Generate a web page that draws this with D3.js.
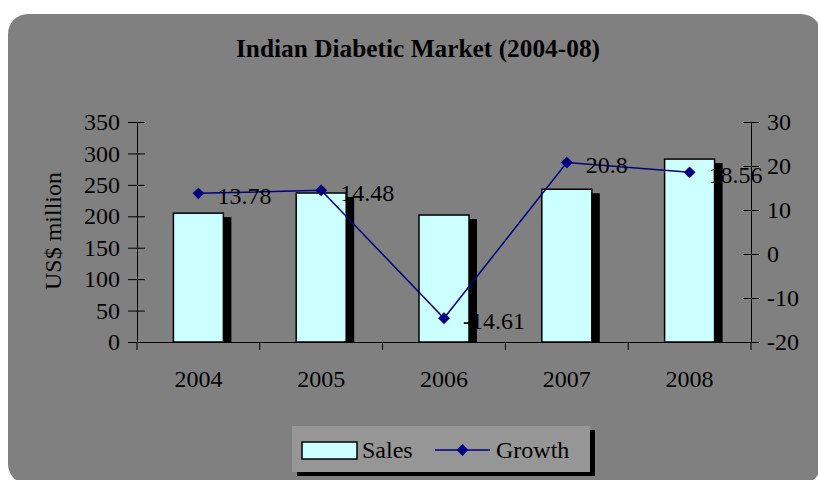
<!DOCTYPE html>
<meta charset="utf-8">
<script src="https://d3js.org/d3.v7.min.js"></script>
<style>
  body { margin: 0; background: #fff; }
  text { font-family: "Liberation Serif", "Times New Roman", serif; fill: #000; }
</style>
<svg id="chart" width="818" height="480"></svg>
<script>

// chart data
var years = ["2004", "2005", "2006", "2007", "2008"];
var sales = [205, 237, 202, 243, 291];
var growth = [13.78, 14.48, -14.61, 20.8, 18.56];
var growthLabels = ["13.78", "14.48", "-14.61", "20.8", "18.56"];
var leftTicks = [0, 50, 100, 150, 200, 250, 300, 350];
var rightTicks = [-20, -10, 0, 10, 20, 30];

var svg = d3.select("#chart");

// gray rounded background
svg.append("rect")
  .attr("x", 8).attr("y", 14)
  .attr("width", 813).attr("height", 470)
  .attr("rx", 20).attr("ry", 20)
  .attr("fill", "#808080");

// title
svg.append("text")
  .attr("x", 418).attr("y", 57)
  .attr("text-anchor", "middle")
  .attr("font-size", 26)
  .attr("font-weight", "bold")
  .attr("textLength", 364)
  .attr("lengthAdjust", "spacingAndGlyphs")
  .text("Indian Diabetic Market (2004-08)");

// scales
var x = d3.scaleBand().domain(years).range([137, 751]);
var yL = d3.scaleLinear().domain([0, 350]).range([342, 122]);
var yR = d3.scaleLinear().domain([-20, 30]).range([342, 122]);
var barW = 50;

// bar shadows then bars
svg.append("g").selectAll("rect")
  .data(sales)
  .enter()
  .append("rect")
    .attr("x", function(d, i) { return x(years[i]) + x.bandwidth() / 2 - barW / 2 + 8; })
    .attr("y", function(d) { return yL(d) + 4; })
    .attr("width", barW)
    .attr("height", function(d) { return 342 - yL(d) - 4; })
    .attr("fill", "#000");

svg.append("g").selectAll("rect")
  .data(sales)
  .enter()
  .append("rect")
    .attr("x", function(d, i) { return x(years[i]) + x.bandwidth() / 2 - barW / 2; })
    .attr("y", function(d) { return yL(d); })
    .attr("width", barW)
    .attr("height", function(d) { return 342 - yL(d); })
    .attr("fill", "#ccffff")
    .attr("stroke", "#000")
    .attr("stroke-width", 1.5);

// left axis
var gL = svg.append("g").attr("transform", "translate(137,0)");
gL.call(d3.axisLeft(yL).tickValues(leftTicks).tickSize(9).tickPadding(8));
gL.selectAll(".tick line").attr("x2", -9).attr("x1", 8);

// right axis (plain hyphen for negatives)
var gR = svg.append("g").attr("transform", "translate(751,0)");
gR.call(d3.axisRight(yR).tickValues(rightTicks).tickSize(8).tickPadding(8)
  .tickFormat(function(d) { return String(d); }));
gR.selectAll(".tick line").attr("x1", -8);

// x axis
var gX = svg.append("g").attr("transform", "translate(0,342)");
gX.call(d3.axisBottom(x).tickSize(0).tickPadding(37));
gX.selectAll(".tick text").attr("dy", "0.35em");
gX.selectAll("line.cat")
  .data(d3.range(6))
  .enter()
  .append("line")
    .attr("class", "cat")
    .attr("x1", function(d) { return 137 + d * x.step(); })
    .attr("x2", function(d) { return 137 + d * x.step(); })
    .attr("y1", 0).attr("y2", 8)
    .attr("stroke", "#000");

svg.selectAll(".domain").attr("stroke", "#000").attr("stroke-width", 1);
svg.selectAll(".tick line").attr("stroke", "#000");
svg.selectAll(".tick text")
  .attr("font-size", 24)
  .attr("fill", "#000");

// y label, clipped at the top like the original
svg.append("clipPath").attr("id", "lblClip")
  .append("rect").attr("x", 0).attr("y", 166).attr("width", 120).attr("height", 200);
svg.append("g")
  .attr("clip-path", "url(#lblClip)")
  .append("text")
    .attr("transform", "translate(61,231) rotate(-90)")
    .attr("text-anchor", "middle")
    .attr("font-size", 24)
    .text("US$ million");

// growth line
var line = d3.line()
  .x(function(d, i) { return x(years[i]) + x.bandwidth() / 2; })
  .y(function(d) { return yR(d); });

svg.append("path")
  .datum(growth)
  .attr("d", line)
  .attr("fill", "none")
  .attr("stroke", "#000080")
  .attr("stroke-width", 1.5);

var diamond = d3.symbol().type(d3.symbolSquare).size(70);
svg.append("g").selectAll("path")
  .data(growth)
  .enter()
  .append("path")
    .attr("d", diamond)
    .attr("transform", function(d, i) { return "translate(" + (x(years[i]) + x.bandwidth() / 2) + "," + yR(d) + ") rotate(45)"; })
    .attr("fill", "#000080");

svg.append("g").selectAll("text")
  .data(growth)
  .enter()
  .append("text")
    .attr("x", function(d, i) { return x(years[i]) + x.bandwidth() / 2 + 19; })
    .attr("y", function(d) { return yR(d) + 2; })
    .attr("dy", "0.35em")
    .attr("font-size", 24)
    .text(function(d, i) { return growthLabels[i]; });

// legend
var lg = svg.append("g").attr("transform", "translate(292,426)");
lg.append("rect").attr("x", 5).attr("y", 4).attr("width", 298).attr("height", 46).attr("fill", "#000");
lg.append("rect").attr("width", 298).attr("height", 46).attr("fill", "#969696");
lg.append("rect").attr("x", 10).attr("y", 16).attr("width", 55).attr("height", 17)
  .attr("fill", "#ccffff").attr("stroke", "#000").attr("stroke-width", 1.5);
lg.append("text").attr("x", 70).attr("y", 24).attr("dy", "0.35em").attr("font-size", 24).text("Sales");
lg.append("line").attr("x1", 143).attr("x2", 198).attr("y1", 24).attr("y2", 24)
  .attr("stroke", "#000080").attr("stroke-width", 1.5);
lg.append("path").attr("d", diamond).attr("transform", "translate(170.5,24) rotate(45)").attr("fill", "#000080");
lg.append("text").attr("x", 204).attr("y", 24).attr("dy", "0.35em").attr("font-size", 24).text("Growth");

</script>
